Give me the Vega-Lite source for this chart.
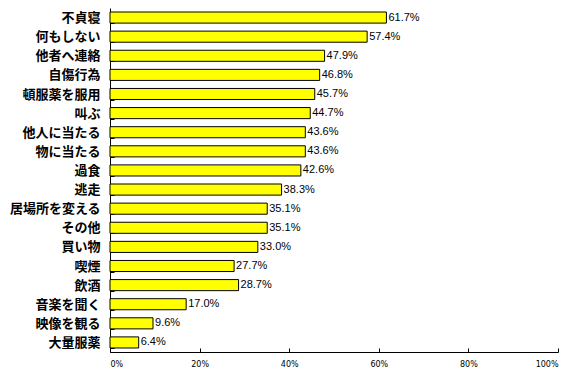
{
  "$schema": "https://vega.github.io/schema/vega-lite/v6.json",
  "width": 448,
  "height": 344,
  "autosize": "none",
  "padding": {"left": 110, "top": 8, "right": 23, "bottom": 29},
  "background": "white",
  "config": {"view": {"stroke": null}},
  "data": {"values": [
    {"item": "不貞寝", "value": 0.617},
    {"item": "何もしない", "value": 0.574},
    {"item": "他者へ連絡", "value": 0.479},
    {"item": "自傷行為", "value": 0.468},
    {"item": "頓服薬を服用", "value": 0.457},
    {"item": "叫ぶ", "value": 0.447},
    {"item": "他人に当たる", "value": 0.436},
    {"item": "物に当たる", "value": 0.436},
    {"item": "過食", "value": 0.426},
    {"item": "逃走", "value": 0.383},
    {"item": "居場所を変える", "value": 0.351},
    {"item": "その他", "value": 0.351},
    {"item": "買い物", "value": 0.330},
    {"item": "喫煙", "value": 0.277},
    {"item": "飲酒", "value": 0.287},
    {"item": "音楽を聞く", "value": 0.170},
    {"item": "映像を観る", "value": 0.096},
    {"item": "大量服薬", "value": 0.064}
  ]},
  "encoding": {
    "y": {"field": "item", "type": "nominal", "sort": null,
      "scale": {"paddingInner": 0.42, "paddingOuter": 0.21},
      "axis": {"title": null, "domainColor": "black", "tickColor": "black", "tickBand": "extent", "tickSize": -4,
        "labelFont": "Noto Sans CJK JP", "labelFontSize": 13, "labelFontWeight": "bold", "labelColor": "black", "labelPadding": 14}},
    "x": {"field": "value", "type": "quantitative",
      "scale": {"domain": [0, 1]},
      "axis": {"title": null, "format": ".0%", "values": [0, 0.2, 0.4, 0.6, 0.8, 1], "grid": false,
        "domainColor": "black", "tickColor": "black", "tickSize": -4,
        "labelFont": "DejaVu Sans", "labelFontSize": 8, "labelColor": "black", "labelPadding": 12}}
  },
  "layer": [
    {"mark": {"type": "bar", "color": "#FFFF00", "stroke": "black", "strokeWidth": 1}},
    {"mark": {"type": "text", "align": "left", "dx": 2, "font": "Liberation Sans", "fontSize": 11, "color": "black"},
     "encoding": {"text": {"field": "value", "type": "quantitative", "format": ".1%"}}}
  ]
}
